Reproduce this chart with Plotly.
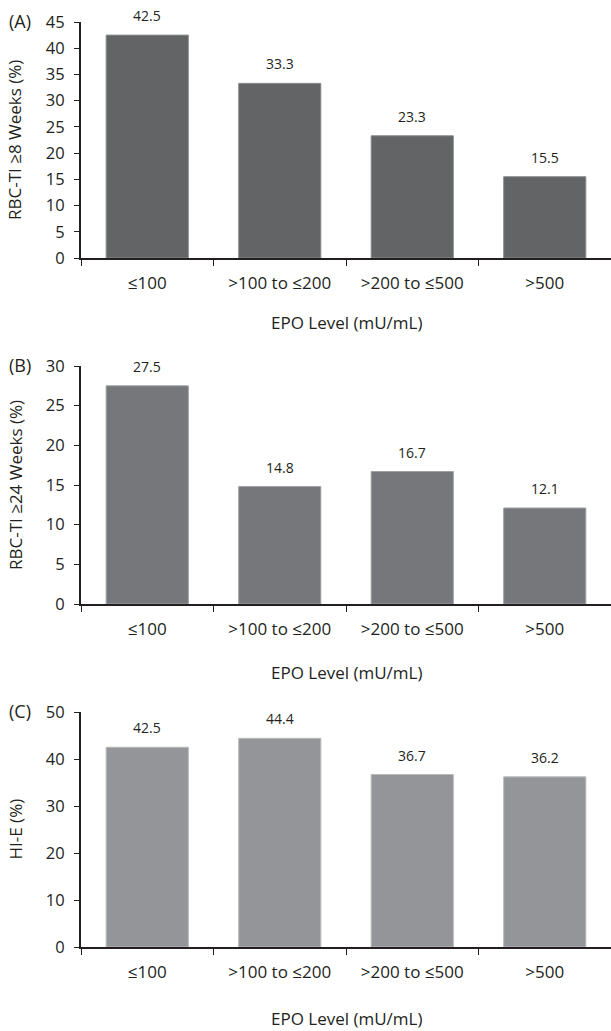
import plotly.graph_objects as go

categories = ["≤100", ">100 to ≤200", ">200 to ≤500", ">500"]
rbc8_values = [42.5, 33.3, 23.3, 15.5]
rbc24_values = [27.5, 14.8, 16.7, 12.1]
hie_values = [42.5, 44.4, 36.7, 36.2]
value_labels_a = ["42.5", "33.3", "23.3", "15.5"]
value_labels_b = ["27.5", "14.8", "16.7", "12.1"]
value_labels_c = ["42.5", "44.4", "36.7", "36.2"]

W, H = 611, 1031
def py(p):
    return (H - p) / H

panels = [
    dict(vals=rbc8_values, labs=value_labels_a, color="#636466", edge="#8a8b8d",
         top=22, bot=258, rng=[0, 45], dtick=5, ytitle="RBC-TI ≥8 Weeks (%)",
         tag="(A)", xt=322),
    dict(vals=rbc24_values, labs=value_labels_b, color="#76777b", edge="#a0a1a4",
         top=366, bot=604, rng=[0, 30], dtick=5, ytitle="RBC-TI ≥24 Weeks (%)",
         tag="(B)", xt=672),
    dict(vals=hie_values, labs=value_labels_c, color="#939598", edge="#b8b9bb",
         top=712, bot=947, rng=[0, 50], dtick=10, ytitle="HI-E (%)",
         tag="(C)", xt=1018),
]

TXT = "#231f20"
FONT = "Open Sans"
fig = go.Figure()
annotations = []
x0 = 81 / W
for i, p in enumerate(panels):
    n = "" if i == 0 else str(i + 1)
    xa, ya = "x" + n, "y" + n
    fig.add_trace(go.Bar(
        x=categories, y=p["vals"], xaxis=xa, yaxis=ya,
        marker=dict(color=p["color"], line=dict(color=p["edge"], width=1)),
        width=0.62, showlegend=False, hoverinfo="skip"))
    for c, v, t in zip(categories, p["vals"], p["labs"]):
        annotations.append(dict(x=c, y=v, xref=xa, yref=ya, text=t,
                                showarrow=False, yanchor="bottom", yshift=8,
                                font=dict(family=FONT, size=14, color=TXT)))
    dom = [py(p["bot"]), py(p["top"])]
    fig.update_layout(**{
        ("xaxis" + n): dict(domain=[x0, 1.0], anchor=ya, type="category",
                            range=[-0.5, 3.5], tickson="boundaries", automargin=False,
                            ticks="outside", ticklen=6, tickwidth=1.2,
                            tickcolor=TXT, showline=True, linecolor=TXT,
                            linewidth=2, showgrid=False, ticklabelstandoff=9,
                            tickfont=dict(family=FONT, size=17, color=TXT)),
        ("yaxis" + n): dict(domain=dom, anchor=xa, range=p["rng"], dtick=p["dtick"],
                            automargin=False, ticklabelstandoff=6,
                            ticks="outside", ticklen=5, tickwidth=1.2,
                            tickcolor=TXT, showline=True, linecolor=TXT,
                            linewidth=2, showgrid=False, zeroline=False,
                            tickfont=dict(family=FONT, size=16.5, color=TXT)),
    })
    annotations.append(dict(x=0.5 * (x0 + 1.0), y=py(p["xt"]), xref="paper", yref="paper",
                            text="EPO Level (mU/mL)", showarrow=False,
                            xanchor="center", yanchor="middle",
                            font=dict(family=FONT, size=17, color=TXT)))
    annotations.append(dict(x=15 / W, y=py((p["top"] + p["bot"]) / 2), xref="paper", yref="paper",
                            text=p["ytitle"], textangle=-90, showarrow=False,
                            xanchor="center", yanchor="middle",
                            font=dict(family=FONT, size=17, color=TXT)))
    annotations.append(dict(x=7 / W, y=py(p["top"] - 1), xref="paper", yref="paper",
                            text=p["tag"], showarrow=False,
                            xanchor="left", yanchor="middle",
                            font=dict(family=FONT, size=18, color=TXT)))

fig.update_layout(width=W, height=H, margin=dict(l=0, r=0, t=0, b=0),
                  paper_bgcolor="white", plot_bgcolor="white",
                  annotations=annotations, bargap=0.38)
fig.write_html("out.html", config={"displayModeBar": False},
               post_script="document.body.style.margin='0px';")
